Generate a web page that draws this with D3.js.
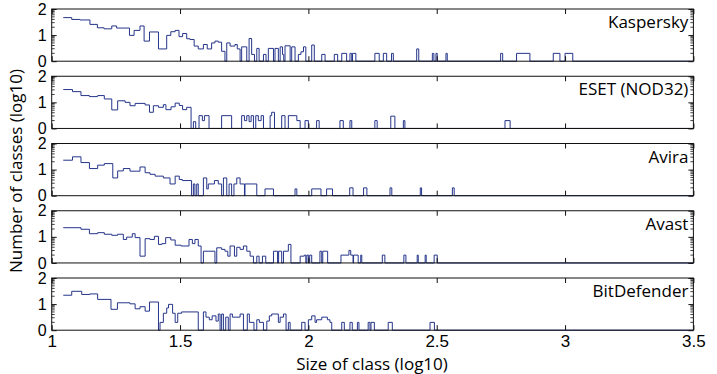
<!DOCTYPE html>
<html>
<head>
<meta charset="utf-8">
<script src="https://cdn.jsdelivr.net/npm/d3@7"></script>
<style>
  body { margin: 0; background: #fff; }
  svg { display: block; font-family: "Open Sans", "Liberation Sans", sans-serif; }
</style>
</head>
<body>
<svg id="chart" width="717" height="374"></svg>
<script>
// step start (log10 size) and level (log10 count); level holds until the next step
const kaspersky = [
  [1.045,1.67],[1.078,1.60],[1.110,1.58],[1.149,1.41],[1.178,1.28],[1.204,1.24],[1.234,1.35],[1.253,1.27],
  [1.303,0.99],[1.321,1.18],[1.344,1.35],[1.360,0.77],[1.381,1.12],[1.416,0.47],[1.448,0.99],[1.464,1.13],
  [1.481,1.18],[1.496,0.94],[1.510,1.06],[1.526,0.86],[1.539,0.83],[1.555,0.58],[1.571,0.47],[1.591,0.64],
  [1.606,0.47],[1.623,0.70],[1.636,0.77],[1.649,0.73],[1.662,0.38],[1.675,0],[1.682,0.70],[1.695,0.58],
  [1.714,0.64],[1.723,0.47],[1.734,0],[1.740,0.55],[1.760,0],[1.769,0.87],[1.779,0.26],[1.790,0],
  [1.799,0.49],[1.808,0],[1.825,0.26],[1.835,0],[1.844,0.49],[1.864,0],[1.870,0.49],[1.883,0],
  [1.890,0.55],[1.899,0.26],[1.904,0],[1.909,0.59],[1.929,0],[1.935,0.55],[1.948,0],[1.961,0.26],
  [1.971,0.36],[1.981,0.55],[1.990,0],[2.013,0.62],[2.023,0],[2.052,0.26],[2.065,0],[2.101,0.26],
  [2.114,0],[2.130,0.3],[2.149,0],[2.162,0.3],[2.169,0],[2.172,0.3],[2.185,0],[2.259,0.3],[2.276,0],
  [2.292,0.3],[2.305,0],[2.324,0.3],[2.331,0],[2.422,0.47],[2.430,0],[2.483,0.3],[2.489,0],[2.497,0.3],
  [2.502,0],[2.536,0.3],[2.541,0],[2.749,0.3],[2.757,0],[2.811,0.3],[2.863,0],[2.954,0.3],[2.980,0],
  [3.000,0.3],[3.030,0]
];

const eset = [
  [1.045,1.49],[1.081,1.41],[1.114,1.26],[1.147,1.22],[1.179,1.26],[1.205,1.13],[1.234,0.71],[1.257,1.06],
  [1.286,1.0],[1.305,0.87],[1.325,0.96],[1.364,0.90],[1.381,0.62],[1.396,0.87],[1.416,0.81],[1.435,0.91],
  [1.445,0.72],[1.465,0.83],[1.481,0.97],[1.497,0.88],[1.510,0.72],[1.526,0.81],[1.543,0],[1.552,0.26],
  [1.561,0],[1.574,0.49],[1.587,0.3],[1.595,0.49],[1.613,0],[1.662,0.49],[1.701,0],[1.740,0.49],
  [1.751,0.3],[1.760,0.49],[1.769,0.26],[1.777,0.49],[1.786,0],[1.795,0.49],[1.805,0.3],[1.816,0.49],
  [1.825,0],[1.851,0.49],[1.857,0.62],[1.868,0],[1.896,0.49],[1.909,0],[1.922,0.49],[1.955,0.3],
  [1.968,0],[1.987,0.3],[2.0,0],[2.032,0.3],[2.042,0],[2.123,0.3],[2.136,0],[2.162,0.3],[2.169,0],
  [2.259,0.3],[2.268,0],[2.321,0.47],[2.337,0],[2.370,0.3],[2.376,0],[2.766,0.3],[2.786,0]
];

const avira = [
  [1.045,1.36],[1.081,1.49],[1.114,1.27],[1.147,1.04],[1.179,1.17],[1.205,1.23],[1.238,0.68],[1.257,0.95],
  [1.279,1.04],[1.305,0.94],[1.344,1.10],[1.364,0.88],[1.383,0.82],[1.403,0.75],[1.435,0.68],[1.461,0.45],
  [1.481,0.75],[1.497,0.62],[1.509,0.58],[1.545,0],[1.552,0.45],[1.558,0],[1.565,0.45],[1.571,0],
  [1.591,0.68],[1.604,0.26],[1.610,0.45],[1.634,0.58],[1.649,0.45],[1.662,0],[1.669,0.68],[1.682,0],
  [1.691,0.45],[1.701,0],[1.710,0.45],[1.721,0.68],[1.734,0.45],[1.751,0],[1.753,0.45],[1.799,0],
  [1.831,0.26],[1.864,0],[1.948,0.26],[1.955,0],[2.013,0.26],[2.049,0],[2.071,0.26],[2.094,0],
  [2.161,0.3],[2.174,0],[2.215,0.3],[2.228,0],[2.318,0.3],[2.325,0],[2.436,0.3],[2.441,0],
  [2.561,0.3],[2.568,0]
];

const avast = [
  [1.045,1.35],[1.114,1.29],[1.147,1.12],[1.179,1.16],[1.205,1.10],[1.234,1.06],[1.257,1.10],[1.279,0.90],
  [1.292,0.99],[1.314,1.12],[1.325,0.97],[1.344,0.26],[1.364,0.93],[1.383,0.90],[1.400,1.02],[1.416,0.71],
  [1.429,0.74],[1.444,0.97],[1.464,0.88],[1.481,0.68],[1.504,0.65],[1.535,0.90],[1.548,0.74],[1.558,0.90],
  [1.571,0.65],[1.582,0],[1.591,0.45],[1.636,0],[1.643,0.58],[1.662,0.52],[1.675,0.45],[1.686,0.26],
  [1.695,0.65],[1.712,0.26],[1.721,0.6],[1.734,0.52],[1.747,0.65],[1.760,0.45],[1.773,0.26],[1.786,0],
  [1.799,0.26],[1.808,0],[1.821,0.26],[1.834,0],[1.864,0.45],[1.880,0],[1.884,0.45],[1.896,0],
  [1.903,0.45],[1.922,0.71],[1.932,0],[1.968,0.26],[1.984,0.3],[1.990,0],[1.994,0.3],[2.0,0],
  [2.005,0.3],[2.013,0],[2.045,0.45],[2.052,0],[2.056,0.45],[2.075,0],[2.127,0.3],[2.158,0.48],
  [2.165,0.3],[2.174,0],[2.176,0.3],[2.194,0],[2.204,0.3],[2.208,0],[2.288,0.3],[2.298,0],
  [2.372,0.3],[2.380,0],[2.424,0.3],[2.428,0],[2.455,0.3],[2.459,0],[2.490,0.3],[2.502,0]
];

const bitdefender = [
  [1.045,1.34],[1.078,1.49],[1.117,1.37],[1.149,1.39],[1.179,1.18],[1.231,0.80],[1.256,1.05],[1.305,1.01],
  [1.325,0.82],[1.344,0.90],[1.364,0.73],[1.381,1.08],[1.416,0],[1.422,0.30],[1.435,0.65],[1.448,0.85],
  [1.455,0.99],[1.471,0.65],[1.481,0.30],[1.491,0.65],[1.506,0.70],[1.571,0],[1.591,0.70],[1.601,0.50],
  [1.614,0.40],[1.625,0.55],[1.640,0.35],[1.649,0.62],[1.656,0],[1.662,0.62],[1.669,0],[1.678,0.50],
  [1.688,0],[1.695,0.62],[1.704,0.50],[1.734,0.62],[1.747,0],[1.762,0.62],[1.770,0.30],[1.788,0],
  [1.799,0.40],[1.809,0.30],[1.825,0],[1.838,0.35],[1.848,0.55],[1.857,0.62],[1.883,0.30],[1.890,0.50],
  [1.903,0.62],[1.913,0],[1.922,0.30],[1.929,0],[1.974,0.30],[1.987,0],[2.0,0.40],[2.013,0.55],
  [2.026,0.30],[2.032,0.40],[2.052,0.50],[2.074,0.40],[2.084,0.30],[2.091,0],[2.130,0.3],[2.140,0],
  [2.162,0.3],[2.171,0],[2.191,0.3],[2.197,0],[2.233,0.3],[2.240,0],[2.244,0.3],[2.257,0],
  [2.311,0.3],[2.327,0],[2.474,0.3],[2.491,0]
];

const panelNames = ["Kaspersky", "ESET (NOD32)", "Avira", "Avast", "BitDefender"];
const panelData = [kaspersky, eset, avira, avast, bitdefender];
const xTicks = [1, 1.5, 2, 2.5, 3, 3.5];
const yTicks = [0, 1, 2];
const yMinor = [2, 3, 4, 5, 6, 7, 8, 9];

const svg = d3.select("#chart");
const left = 51.7, right = 693.4;
const top0 = 9, panelH = 52.2, panelStep = 67.25;
const lineColor = "#25358a";
const fmt = d => String(d);

const x = d3.scaleLinear().domain([1, 3.5]).range([left, right]);

const stairs = d3.line()
  .x(d => x(d[0]))
  .curve(d3.curveStepAfter);

panelData.forEach((data, i) => {
  const top = top0 + i * panelStep;
  const y = d3.scaleLinear().domain([0, 2]).range([top + panelH, top]);
  const g = svg.append("g");

  // the step line
  const pts = data.concat([[3.5, 0]]);
  g.append("path")
    .datum(pts)
    .attr("fill", "none")
    .attr("stroke", lineColor)
    .attr("stroke-width", 1)
    .attr("d", stairs.y(d => y(d[1])));

  // frame
  g.append("rect")
    .attr("x", left).attr("y", top)
    .attr("width", right - left).attr("height", panelH)
    .attr("fill", "none").attr("stroke", "#111").attr("stroke-width", 1);

  // y ticks, inward, both sides
  g.append("g")
    .attr("transform", `translate(${left},0)`)
    .call(d3.axisLeft(y).tickValues(yTicks).tickSizeInner(-5).tickSizeOuter(0).tickPadding(5).tickFormat(fmt))
    .call(a => a.select(".domain").remove())
    .call(a => a.selectAll("text").attr("font-size", 16).attr("fill", "#000"));
  g.append("g")
    .attr("transform", `translate(${right},0)`)
    .call(d3.axisRight(y).tickValues(yTicks).tickSizeInner(-5).tickSizeOuter(0).tickFormat(""))
    .call(a => a.select(".domain").remove());

  // log minor ticks
  const minor = [];
  [0, 1].forEach(dec => yMinor.forEach(k => minor.push(dec + Math.log10(k))));
  [[left, 3], [right, -3]].forEach(([px, len]) => {
    g.selectAll(null)
      .data(minor)
      .enter().append("line")
      .attr("x1", px).attr("x2", px + len)
      .attr("y1", d => y(d)).attr("y2", d => y(d))
      .attr("stroke", "#111").attr("stroke-width", 0.8);
  });

  // x ticks inward at top and bottom
  g.append("g")
    .attr("transform", `translate(0,${top + panelH})`)
    .call(d3.axisBottom(x).tickValues(xTicks).tickSizeInner(-5).tickSizeOuter(0).tickPadding(5)
      .tickFormat(i === panelData.length - 1 ? fmt : ""))
    .call(a => a.select(".domain").remove())
    .call(a => a.selectAll("text").attr("font-size", 17).attr("fill", "#000"));
  g.append("g")
    .attr("transform", `translate(0,${top})`)
    .call(d3.axisTop(x).tickValues(xTicks).tickSizeInner(-5).tickSizeOuter(0).tickFormat(""))
    .call(a => a.select(".domain").remove());

  g.selectAll(".tick line").attr("stroke", "#111");

  // series name
  g.append("text")
    .attr("x", right - 5)
    .attr("y", top + 19)
    .attr("text-anchor", "end")
    .attr("font-size", 17)
    .text(panelNames[i]);
});

// axis titles
svg.append("text")
  .attr("x", 372)
  .attr("y", 370)
  .attr("text-anchor", "middle")
  .attr("font-size", 17)
  .text("Size of class (log10)");

svg.append("text")
  .attr("transform", `translate(22,171) rotate(-90)`)
  .attr("text-anchor", "middle")
  .attr("font-size", 17)
  .text("Number of classes (log10)");
</script>
</body>
</html>
